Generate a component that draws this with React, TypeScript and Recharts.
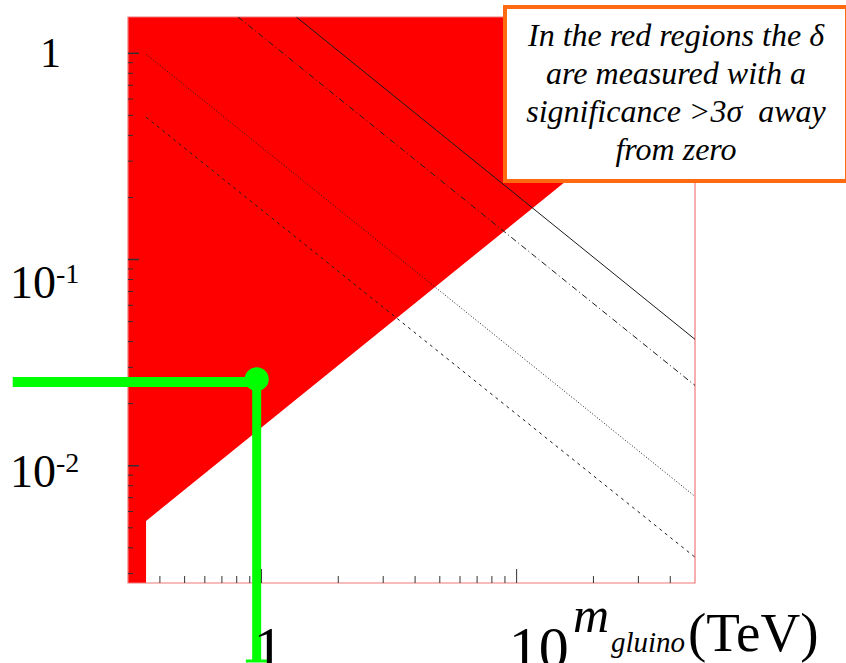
import React from "react";
import {
  ComposedChart,
  Area,
  Line,
  XAxis,
  YAxis,
  ReferenceArea,
  ReferenceLine,
  ReferenceDot,
} from "recharts";

const W = 846;
const H = 663;
const SERIF = "'Liberation Serif', 'DejaVu Serif', serif";

// gluino mass axis (TeV), log scale
const massDomain = [0.3, 50];
const massMajorTicks = [1, 10];
const massMinorTicks = [0.4, 0.5, 0.6, 0.7, 0.8, 0.9, 2, 3, 4, 5, 6, 7, 8, 9, 20, 30, 40];
const massTickLabels = ["1", "10"];

// delta axis, log scale
const deltaDomain = [0.0027, 1.5];
const deltaMajorTicks = [0.01, 0.1, 1];
const deltaMinorTicks = [
  0.003, 0.004, 0.005, 0.006, 0.007, 0.008, 0.009,
  0.02, 0.03, 0.04, 0.05, 0.06, 0.07, 0.08, 0.09,
  0.2, 0.3, 0.4, 0.5, 0.6, 0.7, 0.8, 0.9,
];
const deltaTickExponents = ["-2", "-1", ""];

// 3 sigma region: lower edge of the red band
const regionMass = [0.3, 0.353, 0.353, 50];
const regionLow = [0.0027, 0.0027, 0.0054, 0.77];
const regionHigh = [1.5, 1.5, 1.5, 1.5];

// contour lines, endpoints (mass, delta)
const solidMass = [1.37, 50];
const solidDelta = [1.5, 0.041];
const dashDotMass = [0.81, 50];
const dashDotDelta = [1.5, 0.0245];
const dottedMass = [0.353, 50];
const dottedDelta = [0.99, 0.0071];
const dashedMass = [0.353, 50];
const dashedDelta = [0.49, 0.0036];

// highlighted point and its guide lines
const pointMass = 0.958;
const pointDelta = 0.0263;
const guideDelta = 0.0255;
const guideLeftMass = 0.106;
const guideBottomDelta = 0.00113;
const capMass = [0.869, 1.06];

const regionData = regionMass.map((m, i) => ({ m, band: [regionLow[i], regionHigh[i]] }));
const toLine = (ms: number[], ds: number[]) => ms.map((m, i) => ({ m, delta: ds[i] }));

const contours = [
  { key: "solid", data: toLine(solidMass, solidDelta), dash: undefined },
  { key: "dashdot", data: toLine(dashDotMass, dashDotDelta), dash: "6 3 1 3" },
  { key: "dotted", data: toLine(dottedMass, dottedDelta), dash: "1 2" },
  { key: "dashed", data: toLine(dashedMass, dashedDelta), dash: "3 4" },
];

const massTicks = [...massMinorTicks, ...massMajorTicks].sort((a, b) => a - b);
const deltaTicks = [...deltaMinorTicks, ...deltaMajorTicks].sort((a, b) => a - b);

const GREEN = "#00ff00";
const FRAME = "#f07878";
const TICK = "#333";

// tick marks point into the plot; only decades get a label
const MassTick = (props: any) => {
  const { x, y, payload } = props;
  const i = massMajorTicks.indexOf(payload.value);
  const major = i >= 0;
  return (
    <g>
      <line x1={x} x2={x} y1={y} y2={y - (major ? 14 : 7)} stroke={TICK} strokeWidth={1} />
      {major && (
        <text x={x - 8} y={y + 85} fontFamily={SERIF} fontSize={60} fill="#000">
          {massTickLabels[i]}
        </text>
      )}
    </g>
  );
};

// the labels sit a little unevenly next to their ticks
const deltaLabelDrop: Record<string, number> = { "": 14, "-1": 38, "-2": 21 };

const DeltaTick = (props: any) => {
  const { x, y, payload } = props;
  const i = deltaMajorTicks.indexOf(payload.value);
  if (i < 0) {
    return <line x1={x} x2={x + 5} y1={y} y2={y} stroke={TICK} strokeWidth={1} />;
  }
  const exp = deltaTickExponents[i];
  const base = y + deltaLabelDrop[exp];
  return (
    <g>
      <line x1={x} x2={x + 11} y1={y} y2={y} stroke={TICK} strokeWidth={1.5} />
      {exp === "" ? (
        <text x={40} y={base} fontFamily={SERIF} fontSize={42} fill="#000">
          1
        </text>
      ) : (
        <text x={10} y={base} fontFamily={SERIF} fontSize={46} fill="#000">
          10
          <tspan fontSize={28} dy={-15}>
            {exp}
          </tspan>
        </text>
      )}
    </g>
  );
};

const MassTitle = (props: any) => {
  const { viewBox } = props;
  const right = viewBox.x + viewBox.width;
  return (
    <g fontFamily={SERIF} fill="#000">
      <text x={right - 122} y={632} fontSize={50} fontStyle="italic">
        m
      </text>
      <text x={right - 84} y={652} fontSize={29} fontStyle="italic">
        gluino
      </text>
      <text x={right - 7} y={651} fontSize={55}>
        (TeV)
      </text>
    </g>
  );
};

export default function App() {
  return (
    <div
      style={{
        position: "absolute",
        left: 0,
        top: 0,
        width: W,
        height: H,
        overflow: "hidden",
        background: "#fff",
      }}
    >
      <ComposedChart
        width={W}
        height={H}
        margin={{ top: 17, right: 151, bottom: 80, left: 128 }}
        style={{ overflow: "visible" }}
      >
        {/* a zero size would stop the axes rendering */}
        <XAxis
          xAxisId="m"
          dataKey="m"
          type="number"
          scale="log"
          domain={massDomain}
          allowDataOverflow
          ticks={massTicks}
          interval={0}
          height={0.01}
          tickSize={0}
          tickMargin={0}
          tickLine={false}
          axisLine={false}
          tick={<MassTick />}
          label={<MassTitle />}
        />
        <YAxis
          yAxisId="d"
          type="number"
          scale="log"
          domain={deltaDomain}
          allowDataOverflow
          ticks={deltaTicks}
          interval={0}
          width={0.01}
          tickSize={0}
          tickMargin={0}
          tickLine={false}
          axisLine={false}
          tick={<DeltaTick />}
        />

        <Area
          xAxisId="m"
          yAxisId="d"
          data={regionData}
          dataKey="band"
          type="linear"
          stroke="none"
          fill="#ff0000"
          fillOpacity={1}
          isAnimationActive={false}
        />
        {contours.map((c) => (
          <Line
            key={c.key}
            xAxisId="m"
            yAxisId="d"
            data={c.data}
            dataKey="delta"
            type="linear"
            stroke="#1a1a1a"
            strokeWidth={1}
            strokeDasharray={c.dash}
            dot={false}
            activeDot={false}
            isAnimationActive={false}
          />
        ))}
        <ReferenceArea
          xAxisId="m"
          yAxisId="d"
          x1={massDomain[0]}
          x2={massDomain[1]}
          y1={deltaDomain[0]}
          y2={deltaDomain[1]}
          fill="none"
          stroke={FRAME}
          strokeWidth={1.2}
        />

        <ReferenceLine
          xAxisId="m"
          yAxisId="d"
          segment={[
            { x: guideLeftMass, y: guideDelta },
            { x: pointMass, y: guideDelta },
          ]}
          stroke={GREEN}
          strokeWidth={10}
          ifOverflow="visible"
        />
        <ReferenceLine
          xAxisId="m"
          yAxisId="d"
          segment={[
            { x: pointMass, y: pointDelta },
            { x: pointMass, y: guideBottomDelta },
          ]}
          stroke={GREEN}
          strokeWidth={9}
          ifOverflow="visible"
        />
        <ReferenceLine
          xAxisId="m"
          yAxisId="d"
          segment={[
            { x: capMass[0], y: guideBottomDelta },
            { x: capMass[1], y: guideBottomDelta },
          ]}
          stroke={GREEN}
          strokeWidth={3}
          ifOverflow="visible"
        />
        <ReferenceDot
          xAxisId="m"
          yAxisId="d"
          x={pointMass}
          y={pointDelta}
          r={12}
          fill={GREEN}
          stroke="none"
          ifOverflow="visible"
        />
      </ComposedChart>

      <div
        style={{
          position: "absolute",
          left: 503,
          top: 5,
          width: 346,
          height: 178,
          boxSizing: "border-box",
          border: "4.5px solid #ff6a10",
          background: "#fff",
          fontFamily: SERIF,
          fontStyle: "italic",
          fontSize: 32,
          lineHeight: "38px",
          textAlign: "center",
          paddingTop: 7,
          color: "#000",
        }}
      >
        <div>In the red regions the δ</div>
        <div>are measured with a</div>
        <div>significance &gt;3σ&nbsp; away</div>
        <div>from zero</div>
      </div>
    </div>
  );
}
